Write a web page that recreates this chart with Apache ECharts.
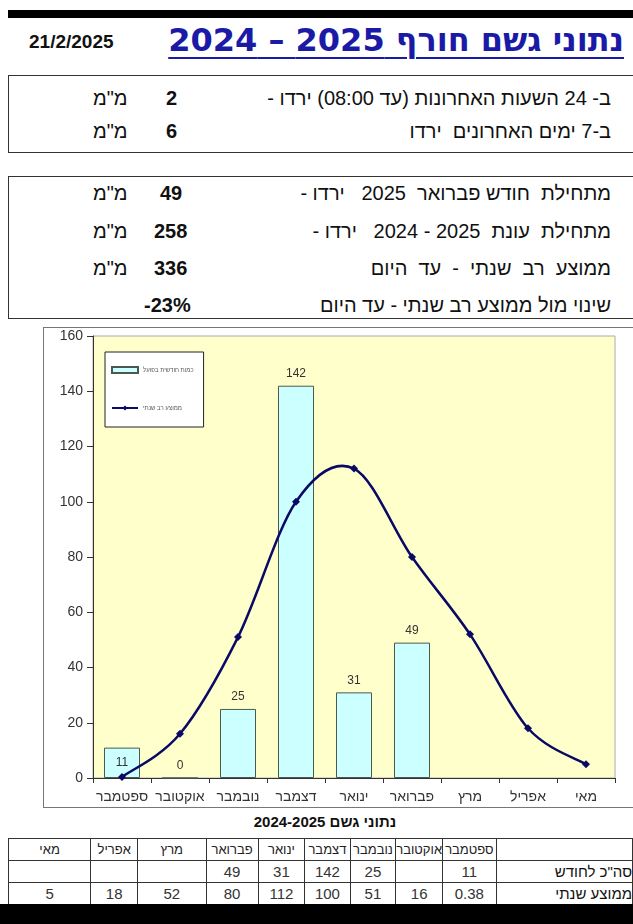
<!DOCTYPE html>
<html><head><meta charset="utf-8">
<script src="https://cdn.jsdelivr.net/npm/echarts@6/dist/echarts.min.js"></script>
<style>
html,body{margin:0;padding:0;background:#fff;width:633px;height:924px;overflow:hidden;font-family:"Liberation Sans",Arial,sans-serif;color:#111;}
.abs{position:absolute;}
#topbar{left:8px;top:10px;width:625px;height:8px;background:#000;}
#date{left:29px;top:31px;font-size:19px;font-weight:bold;}
#title{right:9px;top:21px;font-family:"DejaVu Sans",sans-serif;font-weight:bold;font-size:32px;color:#1a1aa6;text-decoration:underline;text-decoration-thickness:2px;text-underline-offset:6px;direction:rtl;white-space:pre;}
.box{left:8px;width:640px;border:1.5px solid #333;box-sizing:border-box;}
.row{position:absolute;left:0;width:100%;height:24px;font-size:20px;line-height:24px;}
.lbl{position:absolute;right:36px;direction:rtl;white-space:pre;}
.val{position:absolute;font-weight:bold;}
.unit{position:absolute;left:84px;direction:rtl;}
#frame{left:43px;top:327px;width:600px;height:481px;border:1.5px solid #777;box-sizing:border-box;}
#chart{position:absolute;left:43px;top:327px;width:590px;height:481px;}
#ttitle{left:0;top:813px;width:650px;text-align:center;font-weight:bold;font-size:15px;}
#tbl{position:absolute;top:838px;left:8px;border-collapse:collapse;direction:rtl;font-size:15px;table-layout:fixed;}
#tbl td{border:1px solid #333;height:21px;padding:0;text-align:center;color:#333;overflow:hidden;white-space:nowrap;}
#tbl tr.h td{font-size:13px;color:#222;height:21px;}
#tbl td.rl{text-align:right;padding-right:0;font-size:15px;color:#111;}
#botbar{left:0;top:904px;width:633px;height:20px;background:#000;}
</style></head><body>
<div id="topbar" class="abs"></div>
<div id="date" class="abs"></div>
<div id="title" class="abs"></div>
<div id="box1" class="abs box" style="top:75px;height:78px;"></div>
<div id="box2" class="abs box" style="top:176px;height:143px;"></div>
<div id="frame" class="abs"></div>
<div id="chart"></div>
<div id="ttitle" class="abs"></div>
<table id="tbl"></table>
<div id="botbar" class="abs"></div>
<script>
// ---- data ----
const dateText = '21/2/2025';
const titleText = 'נתוני גשם חורף 2025 – 2024';
const box1Labels = ['ב- 24 השעות האחרונות (עד 08:00) ירדו -', 'ב-7 ימים האחרונים  ירדו'];
const box1Values = ['2', '6'];
const box1Units = ['מ"מ', 'מ"מ'];
const box2Labels = ['מתחילת  חודש פברואר  2025   ירדו -', 'מתחילת  עונת  2025 - 2024   ירדו -', 'ממוצע  רב  שנתי  -  עד  היום', 'שינוי מול ממוצע רב שנתי - עד היום'];
const box2Values = ['49', '258', '336', '-23%'];
const box2Units = ['מ"מ', 'מ"מ', 'מ"מ', ''];
const months = ['ספטמבר','אוקטובר','נובמבר','דצמבר','ינואר','פברואר','מרץ','אפריל','מאי'];
const monthlyActual = [11, 0, 25, 142, 31, 49, null, null, null];
const longTermAvg = [0.38, 16, 51, 100, 112, 80, 52, 18, 5];
const tableMonthly = ['11', '', '25', '142', '31', '49', '', '', ''];
const tableAvg = ['0.38', '16', '51', '100', '112', '80', '52', '18', '5'];
const seriesNames = ['כמות חודשית בפועל', 'ממוצע רב שנתי'];
const tableRowLabels = ['סה"כ לחודש', 'ממוצע שנתי'];
const tableTitle = 'נתוני גשם 2024-2025';
const yTicks = {min: 0, max: 160, interval: 20};

// ---- header & boxes ----
document.getElementById('date').textContent = dateText;
document.getElementById('title').textContent = titleText;
function fillBox(id, labels, values, units, centers, valLeft) {
  const b = document.getElementById(id);
  labels.forEach((l, i) => {
    const r = document.createElement('div');
    r.className = 'row'; r.style.top = (centers[i] - 12) + 'px';
    r.innerHTML = '<span class="lbl"></span><span class="val"></span><span class="unit"></span>';
    r.children[0].textContent = l;
    r.children[1].textContent = values[i];
    r.children[1].style.left = valLeft[i] + 'px';
    r.children[2].textContent = units[i];
    b.appendChild(r);
  });
}
fillBox('box1', box1Labels, box1Values, box1Units, [22, 55], [157, 157]);
fillBox('box2', box2Labels, box2Values, box2Units, [16, 54, 91, 128], [151, 145, 145, 135]);

// ---- table ----
document.getElementById('ttitle').textContent = tableTitle;
const colW = [53, 45, 45, 45, 47, 52, 71, 47, 86];
const tbl = document.getElementById('tbl');
function addRow(cls, first, cells) {
  const tr = document.createElement('tr'); if (cls) tr.className = cls;
  const td0 = document.createElement('td'); td0.className = 'rl'; td0.textContent = first; td0.style.width = '140px';
  tr.appendChild(td0);
  cells.forEach((c, i) => { const td = document.createElement('td'); td.textContent = c; td.style.width = colW[i] + 'px'; tr.appendChild(td); });
  tbl.appendChild(tr);
}
addRow('h', '', months);
addRow('', tableRowLabels[0], tableMonthly);
addRow('', tableRowLabels[1], tableAvg);

// ---- chart ----
const lineColor = '#0a0a66';
const chart = echarts.init(document.getElementById('chart'));
chart.setOption({
  animation: false,
  textStyle: {fontFamily: 'Liberation Sans'},
  grid: {left: 50, top: 9, width: 522, height: 442, show: true, backgroundColor: '#FFFFCC', borderColor: '#aaa', borderWidth: 1},
  legend: {
    orient: 'vertical', left: 62, top: 25, padding: [14, 10, 16, 6], itemGap: 31,
    backgroundColor: '#fff', borderColor: '#222', borderWidth: 1, borderRadius: 0,
    itemWidth: 26, itemHeight: 6, textStyle: {fontSize: 6, color: '#555'},
    data: [
      {name: seriesNames[0], icon: 'rect'},
      {name: seriesNames[1], lineStyle: {opacity: 1, width: 2, color: lineColor}}
    ]
  },
  xAxis: {
    type: 'category', data: months, boundaryGap: true,
    axisLine: {lineStyle: {color: '#333', width: 1}},
    axisTick: {show: true, length: 5, lineStyle: {color: '#333'}},
    axisLabel: {fontSize: 14, color: '#333', margin: 12, interval: 0}
  },
  yAxis: {
    type: 'value', min: yTicks.min, max: yTicks.max, interval: yTicks.interval,
    axisLine: {show: true, lineStyle: {color: '#333', width: 1}},
    axisTick: {show: true, length: 6, lineStyle: {color: '#333'}},
    axisLabel: {fontSize: 14, color: '#333', margin: 10},
    splitLine: {show: false}
  },
  series: [
    {
      name: seriesNames[0], type: 'bar', barWidth: 36,
      data: monthlyActual.map((v, i) => (v === null ? null : {
        value: v,
        label: i === 0 ? {position: 'insideTop', distance: 9} : {}
      })),
      itemStyle: {color: '#CCFFFF', borderColor: '#4a5a4e', borderWidth: 1},
      label: {show: true, position: 'top', distance: 6, fontSize: 12, color: '#333'}
    },
    {
      // smooth curve (Catmull-Rom through the points, like the spreadsheet's smoothed line)
      type: 'custom', silent: true, z: 3,
      data: longTermAvg.map((v, i) => [i, v]),
      encode: {x: 0, y: 1},
      renderItem: function (params, api) {
        const i = params.dataIndex;
        const n = longTermAvg.length;
        if (i >= n - 1) return {type: 'group', children: []};
        const P = (k) => api.coord([Math.max(0, Math.min(n - 1, k)), longTermAvg[Math.max(0, Math.min(n - 1, k))]]);
        const p0 = P(i - 1), p1 = P(i), p2 = P(i + 1), p3 = P(i + 2);
        return {
          type: 'bezierCurve',
          shape: {
            x1: p1[0], y1: p1[1], x2: p2[0], y2: p2[1],
            cpx1: p1[0] + (p2[0] - p0[0]) / 6, cpy1: p1[1] + (p2[1] - p0[1]) / 6,
            cpx2: p2[0] - (p3[0] - p1[0]) / 6, cpy2: p2[1] - (p3[1] - p1[1]) / 6
          },
          style: {stroke: lineColor, lineWidth: 2.5, fill: null}
        };
      }
    },
    {
      name: seriesNames[1], type: 'line', data: longTermAvg, z: 4,
      symbol: 'diamond', symbolSize: 8,
      lineStyle: {opacity: 0},
      itemStyle: {color: lineColor}
    }
  ]
});
</script>
</body></html>
